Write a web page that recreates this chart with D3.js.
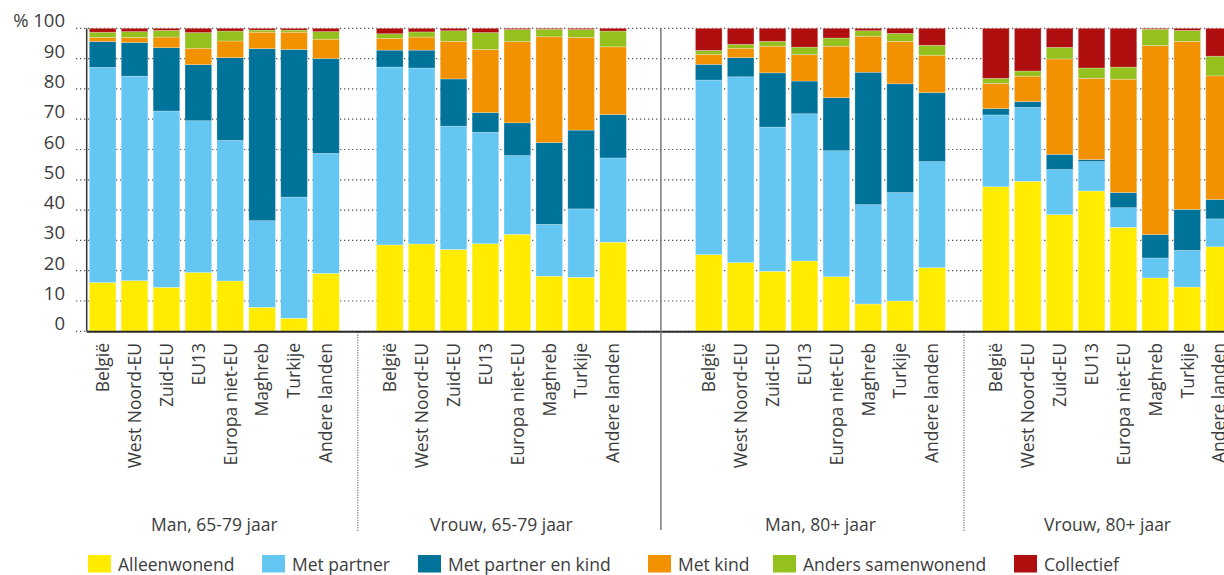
<!DOCTYPE html>
<html><head><meta charset="utf-8">
<script src="https://cdn.jsdelivr.net/npm/d3@7"></script>
<style>
html,body{margin:0;padding:0;background:#fff;overflow:hidden}
svg{display:block;font-family:"Open Sans",sans-serif}
</style></head>
<body><svg id="chart" width="1224" height="575"></svg>
<script>
// ---- data ----
const categories = ["België","West Noord-EU","Zuid-EU","EU13","Europa niet-EU","Maghreb","Turkije","Andere landen"];
const groups = ["Man, 65-79 jaar","Vrouw, 65-79 jaar","Man, 80+ jaar","Vrouw, 80+ jaar"];
const seriesNames = ["Alleenwonend","Met partner","Met partner en kind","Met kind","Anders samenwonend","Collectief"];
const seriesColors = ["#FFEC00","#64C6F2","#00739A","#F39200","#95C11F","#AF0F0F"];
const yTicks = [0,10,20,30,40,50,60,70,80,90,100];

// values per bar: group1 (8), group2 (8), group3 (8), group4 (8)
const alleenwonend = [16.1,16.7,14.5,19.4,16.6,7.9,4.3,19.1,
                      28.5,28.8,27.0,28.9,32.0,18.2,17.8,29.4,
                      25.3,22.7,19.8,23.2,18.0,9.0,10.0,21.0,
                      47.7,49.5,38.5,46.3,34.3,17.6,14.6,27.9];
const metPartner   = [71.0,67.5,58.2,50.1,46.4,28.6,40.0,39.6,
                      58.7,58.1,40.7,36.8,26.0,17.1,22.6,27.8,
                      57.6,61.3,47.6,48.6,41.6,32.8,35.8,35.0,
                      23.7,24.4,14.9,9.7,6.5,6.6,12.1,9.2];
const metPartnerEnKind = [8.5,11.1,20.9,18.5,27.3,56.8,48.7,31.3,
                      5.6,5.9,15.6,6.5,10.8,27.0,26.0,14.3,
                      5.2,6.3,17.9,10.8,17.5,43.7,35.9,22.8,
                      2.1,1.9,5.0,0.7,5.0,7.7,13.5,6.4];
const metKind      = [1.4,1.7,3.5,5.4,5.5,5.4,5.7,6.4,
                      3.9,4.3,12.4,20.8,26.8,34.9,30.6,22.4,
                      3.3,3.1,8.8,8.7,17.0,11.9,14.0,12.3,
                      8.3,8.4,31.5,26.8,37.4,62.4,55.5,40.8];
const andersSamenwonend = [1.7,1.9,2.2,5.2,3.3,0.7,0.7,2.5,
                      1.5,1.7,3.5,5.6,4.0,2.5,2.6,5.2,
                      1.3,1.3,1.6,2.5,2.7,1.8,2.6,3.3,
                      1.7,1.7,3.8,3.4,4.0,5.4,3.6,6.5];
const collectief   = [1.3,1.1,0.7,1.4,0.9,0.6,0.6,1.1,
                      1.8,1.2,0.8,1.4,0.4,0.3,0.4,0.9,
                      7.3,5.3,4.3,6.2,3.2,0.8,1.7,5.6,
                      16.5,14.1,6.3,13.1,12.8,0.3,0.7,9.2];
const seriesValues = [alleenwonend,metPartner,metPartnerEnKind,metKind,andersSamenwonend,collectief];

// ---- build table ----
const rows = [];
groups.forEach((g,gi)=>categories.forEach((c,ci)=>{
  const i = gi*categories.length+ci;
  const r = {key:g+"|"+c, group:g, cat:c};
  seriesNames.forEach((s,si)=>r[s]=seriesValues[si][i]);
  rows.push(r);
}));

// slot layout: [g1, gap, g2, gap] [gap, g3, gap, g4]
const slots = [];
const addGroup = gi => categories.forEach(c=>slots.push(groups[gi]+"|"+c));
addGroup(0); slots.push("gap0"); addGroup(1); slots.push("gap1");
slots.push("gap2"); addGroup(2); slots.push("gap3"); addGroup(3);

const svg = d3.select("#chart");
const x0 = 86.7, step = 31.9;
const x = d3.scaleBand().domain(slots).range([x0, x0+slots.length*step])
  .paddingInner(0.165).paddingOuter(0.0825);
const y = d3.scaleLinear().domain([0,100]).range([331.3,28.3]);
const color = d3.scaleOrdinal().domain(seriesNames).range(seriesColors);
const textCol = "#3c3c3c";

// gridlines
svg.append("g").selectAll("line").data(yTicks).join("line")
  .attr("x1",76).attr("x2",1224)
  .attr("y1",d=>y(d)).attr("y2",d=>y(d))
  .attr("stroke","#555").attr("stroke-width",1.2).attr("stroke-dasharray","1.3,2.7");

// y labels
svg.append("g").selectAll("text").data(yTicks).join("text")
  .attr("x",65).attr("y",d=>y(d)-1)
  .attr("text-anchor","end").attr("font-size",18.5).attr("fill",textCol)
  .text(d=>d===100?"% 100":d);

// bars
const stack = d3.stack().keys(seriesNames);
const stacked = stack(rows);
svg.append("g").selectAll("g").data(stacked).join("g")
  .attr("fill",d=>color(d.key))
  .selectAll("rect").data(d=>d).join("rect")
  .attr("x",d=>x(d.data.key)).attr("width",x.bandwidth())
  .attr("y",d=>y(d[1])).attr("height",d=>Math.max(0,y(d[0])-y(d[1])))
  .attr("stroke","rgba(255,255,255,0.35)").attr("stroke-width",0.7);

// axes lines
svg.append("line").attr("x1",x0).attr("x2",x0).attr("y1",y(100)).attr("y2",y(0))
  .attr("stroke","#333").attr("stroke-width",1.5);
svg.append("line").attr("x1",x0).attr("x2",1224).attr("y1",y(0)+0.5).attr("y2",y(0)+0.5)
  .attr("stroke","#2a2a2a").attr("stroke-width",2);

// panel divider (solid) and group dividers (dotted)
const panelX = x0 + 18*step;
svg.append("line").attr("x1",panelX).attr("x2",panelX).attr("y1",y(100)).attr("y2",530)
  .attr("stroke","#7a7a7a").attr("stroke-width",1.5);
["gap0","gap3"].forEach(k=>{
  const cx = x(k)+x.bandwidth()/2;
  svg.append("line").attr("x1",cx).attr("x2",cx).attr("y1",y(0)+1).attr("y2",531)
    .attr("stroke","#333").attr("stroke-width",1).attr("stroke-dasharray","1,1.5");
});

// x tick labels
svg.append("g").selectAll("text").data(rows).join("text")
  .attr("transform",d=>`translate(${x(d.key)+x.bandwidth()/2},343) rotate(-90)`)
  .attr("dy","0.36em").attr("text-anchor","end")
  .attr("font-size",17.5).attr("fill",textCol)
  .text(d=>d.cat);

// group labels
svg.append("g").selectAll("text").data(groups).join("text")
  .attr("x",g=>{
    const first = x(g+"|"+categories[0]);
    const last = x(g+"|"+categories[categories.length-1])+x.bandwidth();
    return (first+last)/2;
  })
  .attr("y",531).attr("text-anchor","middle").attr("font-size",17.5).attr("fill",textCol)
  .text(d=>d);

// legend
const legendX = [88,262,418,648,773,1014];
const lg = svg.append("g").selectAll("g").data(seriesNames).join("g")
  .attr("transform",(d,i)=>`translate(${legendX[i]},555)`);
lg.append("rect").attr("width",23).attr("height",17.5).attr("fill",d=>color(d));
lg.append("text").attr("x",30).attr("y",15.5).attr("font-size",17.5).attr("fill",textCol).text(d=>d);
</script></body></html>
